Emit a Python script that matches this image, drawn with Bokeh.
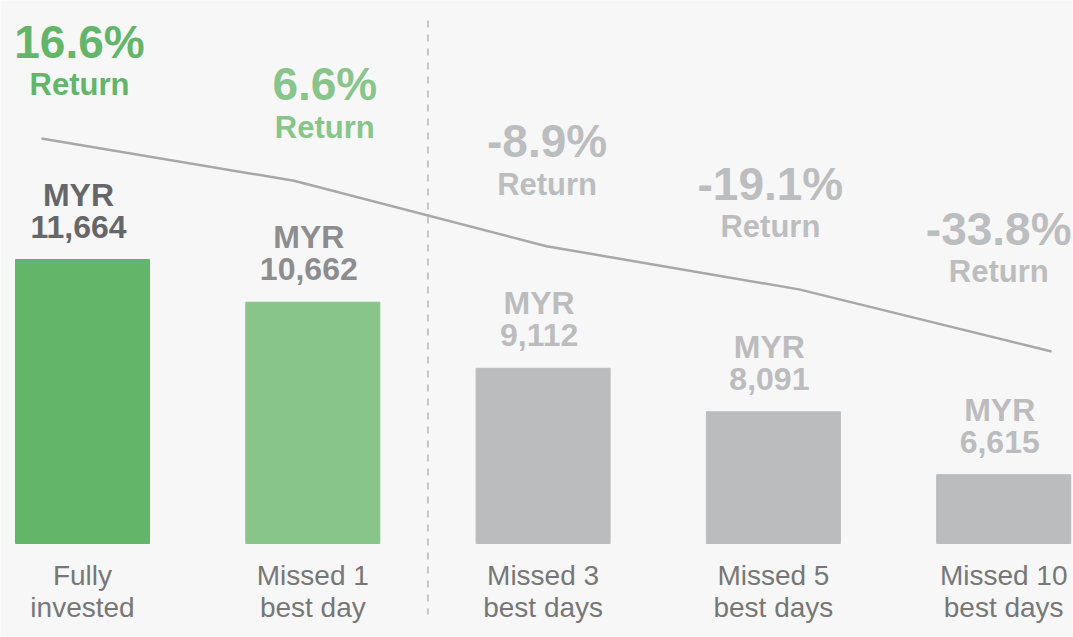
from bokeh.plotting import figure
from bokeh.models import Range1d, ColumnDataSource
from bokeh.core.properties import value
from bokeh.embed import file_html
from bokeh.resources import INLINE

# ---------------- data ----------------
categories = ["Fully\ninvested", "Missed 1\nbest day", "Missed 3\nbest days",
              "Missed 5\nbest days", "Missed 10\nbest days"]
ending_values = [11664, 10662, 9112, 8091, 6615]
returns_pct = [16.6, 6.6, -8.9, -19.1, -33.8]
currency = "MYR"

# ---------------- styling / layout ----------------
W, H = 1073, 637
BG = "#f7f7f7"
bar_colors = ["#63b56a", "#87c58b", "#bbbcbe", "#bbbcbe", "#bbbcbe"]
value_label_colors = ["#66666a", "#8d8d8f", "#bcbcbe", "#bcbcbe", "#bcbcbe"]
pct_colors = ["#63b56a", "#87c58b", "#bcbdbf", "#bcbdbf", "#bcbdbf"]
pct_dx = [-3, 12, 4, -3, -5]             # px
pct_dy = [-218, -218, -227, -228, -246]  # px, relative to bar top
FONT = value("Liberation Sans")

bar_base = 5000
px_first, px_step = 82.0, 230.3        # bar centre pixels
myr_per_px = 23.465
base_px = 543
line_px0, line_step = 41.0, 252.5      # return-line vertex pixels
ret_top, ret_px_top, ret_per_px = 16.6, 138.0, 1 / 4.226

x_idx = list(range(len(categories)))

p = figure(width=W, height=H, output_backend="svg", toolbar_location=None,
           x_range=Range1d(-px_first / px_step, (W - px_first) / px_step),
           y_range=Range1d(bar_base - (H - base_px) * myr_per_px,
                           bar_base + base_px * myr_per_px),
           min_border=0, background_fill_color=BG, border_fill_color=BG,
           outline_line_color=None)
p.axis.visible = False
p.grid.visible = False

p.extra_x_ranges = {"lx": Range1d(-line_px0 / line_step, (W - line_px0) / line_step)}
p.extra_y_ranges = {"ret": Range1d(ret_top - (H - ret_px_top) * ret_per_px,
                                   ret_top + ret_px_top * ret_per_px)}

def y_at_px(px):
    return p.y_range.end - px * myr_per_px

# dashed divider between the "green" and "grey" groups
p.segment(x0=[1.5], x1=[1.5], y0=[y_at_px(20)], y1=[y_at_px(614)],
          line_color="#c6c6c6", line_width=2, line_dash="7 7")

# return line
p.line(x=x_idx, y=returns_pct, x_range_name="lx", y_range_name="ret",
       line_color="#a8a8a8", line_width=2.5)

src = ColumnDataSource(dict(
    x=x_idx, top=ending_values, color=bar_colors,
    vlab=[f"{v:,}" for v in ending_values], cur=[currency] * len(x_idx),
    vcol=value_label_colors,
    pct=[f"{r:.1f}%" for r in returns_pct], pcol=pct_colors,
    pdx=pct_dx, pdy=pct_dy, rdy=[d + 43 for d in pct_dy],
    c1=[c.split("\n")[0] for c in categories],
    c2=[c.split("\n")[1] for c in categories],
    base=[bar_base] * len(x_idx),
))

p.vbar(x="x", top="top", bottom=bar_base, width=134 / px_step, color="color",
       source=src)

# value labels above bars
p.text(x="x", y="top", text="cur", source=src, text_color="vcol",
       text_font=FONT, text_font_size="32px", text_font_style="bold",
       text_align="center", text_baseline="alphabetic", x_offset=-4, y_offset=-65)
p.text(x="x", y="top", text="vlab", source=src, text_color="vcol",
       text_font=FONT, text_font_size="32px", text_font_style="bold",
       text_align="center", text_baseline="alphabetic", x_offset=-4, y_offset=-33)

# return labels
p.text(x="x", y="top", text="pct", source=src, text_color="pcol",
       text_font=FONT, text_font_size="46px", text_font_style="bold",
       text_align="center", text_baseline="alphabetic", x_offset="pdx", y_offset="pdy")
p.text(x="x", y="top", text=value("Return"), source=src, text_color="pcol",
       text_font=FONT, text_font_size="31px", text_font_style="bold",
       text_align="center", text_baseline="alphabetic", x_offset="pdx", y_offset="rdy")

# category labels
p.text(x="x", y="base", text="c1", source=src, text_color="#777777",
       text_font=FONT, text_font_size="28px",
       text_align="center", text_baseline="alphabetic", y_offset=32)
p.text(x="x", y="base", text="c2", source=src, text_color="#777777",
       text_font=FONT, text_font_size="28px",
       text_align="center", text_baseline="alphabetic", y_offset=64)

open("out.html", "w").write(file_html(p, INLINE))
